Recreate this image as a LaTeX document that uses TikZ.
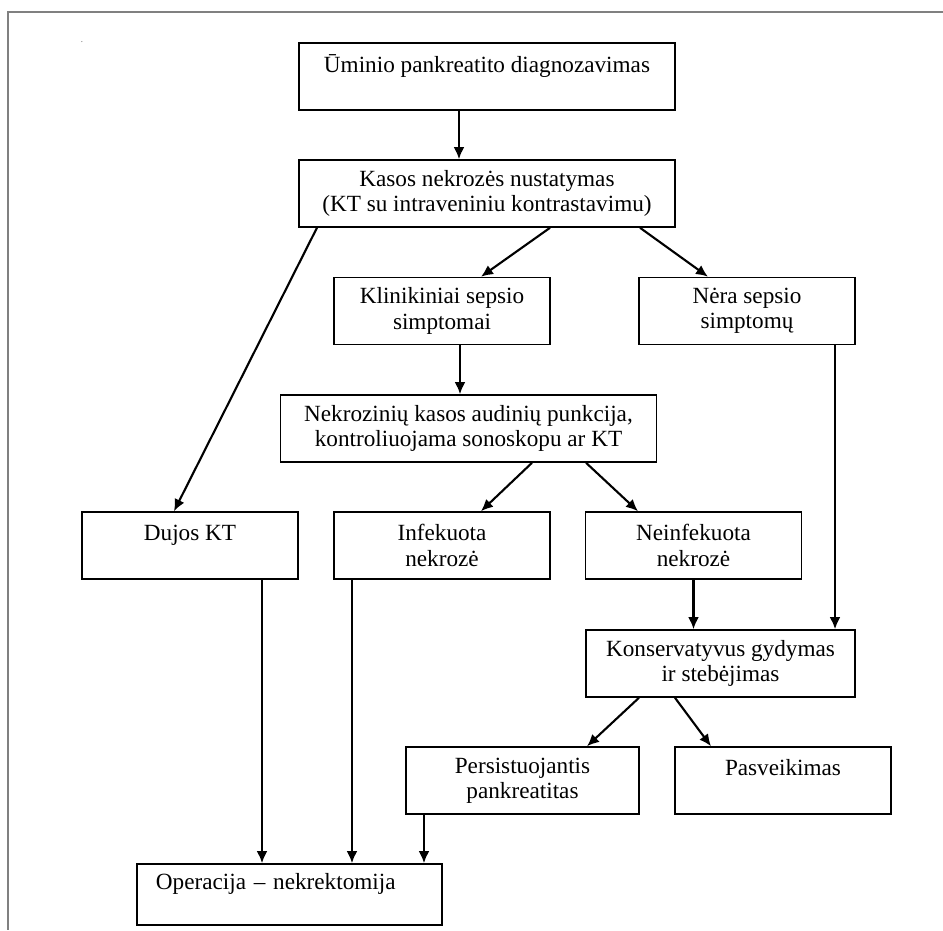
\documentclass[tikz,border=0pt]{standalone}
\usepackage{fontspec}
\setmainfont{Liberation Serif}
\usetikzlibrary{arrows.meta}

\begin{document}
\begin{tikzpicture}[x=0.025cm,y=-0.025cm,
    >={Latex[length=3mm,width=2.7mm]},
    box/.style={draw, line width=1.1pt, align=center, minimum height=1.675cm,
      inner sep=0pt, font=\fontsize{16.5}{18}\selectfont},
    wide/.style={box, minimum width=9.4cm},
    narrow/.style={box, minimum width=5.4cm},
    flow/.style={->, line width=1.5pt}]
  \useasboundingbox (0,0) rectangle (943,930);
  \draw[gray, line width=0.8pt] (943,12) -- (8,12) -- (8,930);
  \node[font=\tiny, inner sep=0pt] (dot) at (82,42) {.};

  \node[wide]   (diag)     at (487,76.5)   {Ūminio pankreatito diagnozavimas\\~};
  \node[wide]   (nustat)   at (487,193.5)  {Kasos nekrozės nustatymas\\(KT su intraveniniu kontrastavimu)};
  \node[narrow] (sepsis)   at (442,311)    {Klinikiniai sepsio\\simptomai};
  \node[narrow] (nesepsis) at (747,311)    {Nėra sepsio\\simptomų};
  \node[wide]   (punkc)    at (468.5,428.5) {Nekrozinių kasos audinių punkcija,\\kontroliuojama sonoskopu ar KT};
  \node[narrow] (dujos)    at (190,545.5)  {Dujos KT\\~};
  \node[narrow] (infek)    at (442,545.5)  {Infekuota\\nekrozė};
  \node[narrow] (neinfek)  at (693.5,545.5) {Neinfekuota\\nekrozė};
  \node[box, minimum width=6.725cm] (konserv) at (720.5,663.5) {Konservatyvus gydymas\\ir stebėjimas};
  \node[box, minimum width=5.825cm] (persist) at (522.5,780.5) {Persistuojantis\\pankreatitas};
  \node[narrow] (pasveik)  at (783,780.5)  {Pasveikimas\\~};
  \node[box, minimum width=7.625cm, minimum height=1.525cm, align=left,
        text width=6.675cm] (oper) at (289.5,894.5) {Operacija – nekrektomija\\~};

  \draw[flow] ([xshift=-0.7cm]diag.south) -- ([xshift=-0.7cm]nustat.north);
  \draw[flow] ([xshift=-4.25cm]nustat.south) -- ([xshift=-0.4cm]dujos.north);
  \draw[flow] ([xshift=1.575cm]nustat.south) -- ([xshift=0.975cm]sepsis.north);
  \draw[flow] ([xshift=3.825cm]nustat.south) -- ([xshift=-0.975cm]nesepsis.north);
  \draw[flow] ([xshift=0.45cm]sepsis.south) -- ([xshift=0.45cm]sepsis.south |- punkc.north);
  \draw[flow] ([xshift=2.2cm]nesepsis.south) -- ([xshift=2.2cm]nesepsis.south |- konserv.north);
  \draw[flow] ([xshift=1.5875cm]punkc.south) -- ([xshift=0.975cm]infek.north);
  \draw[flow] ([xshift=2.9375cm]punkc.south) -- ([xshift=-1.3875cm]neinfek.north);
  \draw[flow] (neinfek.south) -- (neinfek.south |- konserv.north);
  \draw[flow] ([xshift=1.8cm]dujos.south) -- ([xshift=1.8cm]dujos.south |- oper.north);
  \draw[flow] ([xshift=-2.25cm]infek.south) -- ([xshift=-2.25cm]infek.south |- oper.north);
  \draw[flow] ([xshift=-2.0375cm]konserv.south) -- ([xshift=1.6125cm]persist.north);
  \draw[flow] ([xshift=-1.1375cm]konserv.south) -- ([xshift=-1.8cm]pasveik.north);
  \draw[flow] ([xshift=-2.4625cm]persist.south) -- ([xshift=-2.4625cm]persist.south |- oper.north);
\end{tikzpicture}
\end{document}
